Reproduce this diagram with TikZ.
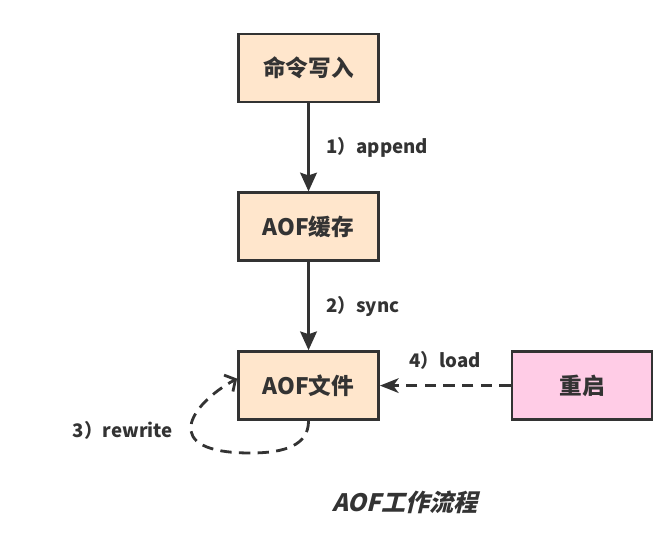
\documentclass[tikz,border=0pt]{standalone}
\usepackage{fontspec}
\setmainfont{Noto Sans CJK SC}
\newfontfamily\titlefont[FakeSlant=0.25]{Noto Sans CJK SC}
\usepackage{tikz}
\usetikzlibrary{arrows.meta, positioning, calc}

\definecolor{inkgray}{HTML}{333333}
\definecolor{peach}{HTML}{FFE6CC}
\definecolor{rosepink}{HTML}{FFCCE6}

\begin{document}
\begin{tikzpicture}
            [->, >={Stealth[length=14pt, width=12.5pt, inset=2pt]}, line width=2.1pt, draw=inkgray,
            node distance=66pt and 98pt, text=inkgray,
            stage/.style={rectangle, draw=inkgray, fill=peach, line width=2.1pt,
                minimum width=105pt, minimum height=51pt, font=\bfseries\fontsize{17}{19}\selectfont},
            restart/.style={stage, fill=rosepink},
            steplabel/.style={font=\bfseries\fontsize{14}{16}\selectfont, text=inkgray},
            dashline/.style={dash pattern=on 8.5pt off 5.5pt}]
            \useasboundingbox (-231.4pt,51pt) rectangle (271.1pt,-350.25pt);

            \node[stage]  (cmd)  at (0,0)  {命令写入};

            \node[stage]  (buf)  [below = of cmd]  {AOF缓存};

            \node[stage]  (file) [below = of buf]  {AOF文件};

            \node[restart]  (reboot) [right = of file]  {重启};

            \node[steplabel, font=\titlefont\bfseries\fontsize{18}{20}\selectfont]
                (title) [below = 48pt of file, xshift=72pt] {AOF工作流程};

            \path (cmd) edge   node[steplabel, right = 9pt] {1）append}  (buf)
                  (buf) edge   node[steplabel, right = 9pt] {2）sync}    (file);

            \draw[dashline, >={Stealth[length=14pt, width=11pt, inset=4pt]}]
                  (reboot) -- node[steplabel, above = 8pt] {4）load} (file);

            \draw[dashline, >={Straight Barb[length=6pt, width=14pt]}]
                  (file.south) .. controls +(0,-18pt) and +(26pt,0) .. ++(-43.5pt,-24pt)
                  coordinate (loopbot)
                  .. controls +(-70pt,0) and +(-35pt,-19pt) .. ([yshift=5.25pt]file.west);

            \node[steplabel, left = 4pt of loopbot, yshift=17pt, xshift=-50pt] (rw) {3）rewrite};
        \end{tikzpicture}
\end{document}
